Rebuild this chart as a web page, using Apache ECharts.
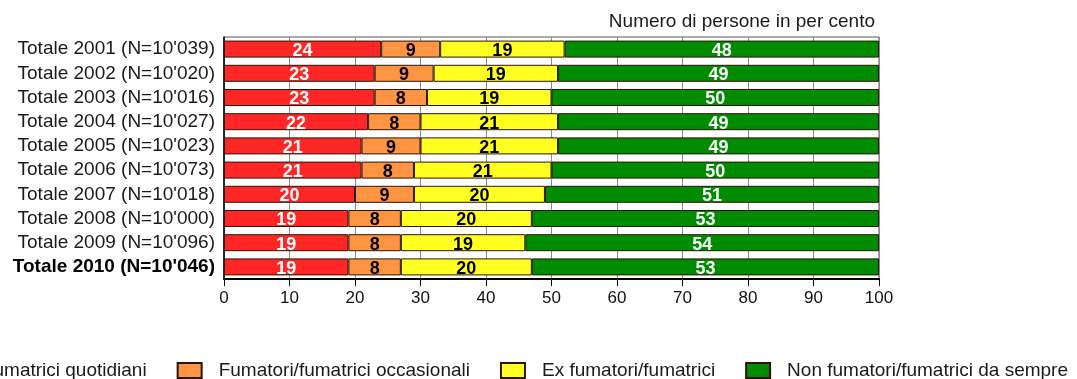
<!DOCTYPE html>
<html>
<head>
<meta charset="utf-8">
<script src="https://cdn.jsdelivr.net/npm/echarts@6/dist/echarts.min.js"></script>
<style>
  html, body { margin: 0; padding: 0; background: #fff; }
  #chart { width: 1077px; height: 379px; }
</style>
</head>
<body>
<div id="chart"></div>
<script>
// Survey years with sample size
const categories = [
  "Totale 2001 (N=10'039)",
  "Totale 2002 (N=10'020)",
  "Totale 2003 (N=10'016)",
  "Totale 2004 (N=10'027)",
  "Totale 2005 (N=10'023)",
  "Totale 2006 (N=10'073)",
  "Totale 2007 (N=10'018)",
  "Totale 2008 (N=10'000)",
  "Totale 2009 (N=10'096)",
  "Totale 2010 (N=10'046)"
];

// Shares in percent per smoking status
const quotidiani  = [24, 23, 23, 22, 21, 21, 20, 19, 19, 19];
const occasionali = [9, 9, 8, 8, 9, 8, 9, 8, 8, 8];
const exFumatori  = [19, 19, 19, 21, 21, 21, 20, 20, 19, 20];
const nonFumatori = [48, 49, 50, 49, 49, 50, 51, 53, 54, 53];

const seriesNames = [
  'Fumatori/fumatrici quotidiani',
  'Fumatori/fumatrici occasionali',
  'Ex fumatori/fumatrici',
  'Non fumatori/fumatrici da sempre'
];

const xTicks = [0, 10, 20, 30, 40, 50, 60, 70, 80, 90, 100];

const FONT = "'Liberation Sans', Arial, Helvetica, sans-serif";

function barSeries(name, data, color, labelColor) {
  return {
    name: name,
    type: 'bar',
    stack: 'tot',
    data: data,
    barWidth: 17,
    itemStyle: { color: color, borderColor: '#2a1505', borderWidth: 1 },
    label: {
      show: true,
      position: 'inside',
      offset: [0, 2],
      color: labelColor,
      fontFamily: FONT,
      fontWeight: 'bold',
      fontSize: 18
    },
    emphasis: { disabled: true }
  };
}

const chart = echarts.init(document.getElementById('chart'), null, { renderer: 'canvas' });

chart.setOption({
  animation: false,
  backgroundColor: '#ffffff',
  title: {
    text: 'Numero di persone in per cento',
    right: 202,
    top: 12,
    padding: 0,
    textStyle: { fontFamily: FONT, fontWeight: 'normal', fontSize: 19, color: '#1a1a1a' }
  },
  legend: {
    top: 361,
    left: -134,
    padding: 0,
    itemWidth: 24,
    itemHeight: 15,
    itemGap: 30,
    icon: 'rect',
    textStyle: {
      fontFamily: FONT,
      fontSize: 19,
      color: '#1a1a1a',
      padding: [0, 0, 0, 12]
    },
    data: seriesNames
  },
  grid: {
    left: 224,
    right: 198,
    top: 37,
    bottom: 100,
    show: true,
    borderColor: '#555',
    borderWidth: 1
  },
  xAxis: {
    type: 'value',
    min: 0,
    max: 100,
    interval: 10,
    axisLine: { show: true, lineStyle: { color: '#000', width: 2 } },
    axisTick: { show: true, length: 7, lineStyle: { color: '#000', width: 1 } },
    axisLabel: {
      fontFamily: FONT,
      fontSize: 17,
      color: '#111',
      margin: 11,
      formatter: function (v) { return xTicks.indexOf(v) >= 0 ? String(v) : ''; }
    },
    splitLine: { show: true, lineStyle: { color: '#8a8a8a', width: 1 } }
  },
  yAxis: {
    type: 'category',
    data: categories,
    inverse: true,
    axisLine: { show: true, lineStyle: { color: '#000', width: 1.5 } },
    axisTick: { show: false },
    axisLabel: {
      interval: 0,
      hideOverlap: false,
      fontFamily: FONT,
      fontSize: 19,
      lineHeight: 19,
      color: '#1a1a1a',
      margin: 9,
      formatter: function (v, i) {
        return i === categories.length - 1 ? '{b|' + v + '}' : v;
      },
      rich: {
        b: { fontFamily: FONT, fontSize: 19, lineHeight: 19, fontWeight: 'bold', color: '#000' }
      }
    }
  },
  series: [
    barSeries(seriesNames[0], quotidiani, '#ff2626', '#ffffff'),
    barSeries(seriesNames[1], occasionali, '#ff9442', '#000000'),
    barSeries(seriesNames[2], exFumatori, '#ffff22', '#000000'),
    barSeries(seriesNames[3], nonFumatori, '#008c00', '#ffffff')
  ]
});
</script>
</body>
</html>
